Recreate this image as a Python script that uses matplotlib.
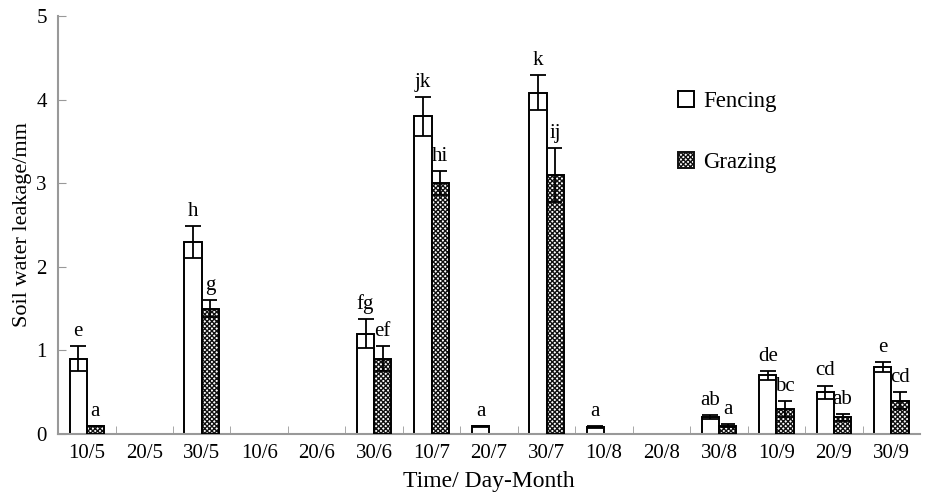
import numpy as np
import matplotlib
matplotlib.use('Agg')
import matplotlib.pyplot as plt

plt.rcParams['font.family'] = 'Liberation Serif'

# data
dates = ['10/5', '20/5', '30/5', '10/6', '20/6', '30/6', '10/7', '20/7',
         '30/7', '10/8', '20/8', '30/8', '10/9', '20/9', '30/9']
fencing = [0.9, 0, 2.3, 0, 0, 1.2, 3.8, 0.09, 4.08, 0.08, 0, 0.2, 0.7, 0.5, 0.8]
fencing_err = [0.15, 0, 0.19, 0, 0, 0.17, 0.23, 0.01, 0.21, 0.01, 0, 0.025, 0.05, 0.08, 0.06]
grazing = [0.1, 0, 1.5, 0, 0, 0.9, 3.0, 0, 3.1, 0, 0, 0.1, 0.3, 0.2, 0.4]
grazing_err = [0.0, 0, 0.1, 0, 0, 0.15, 0.14, 0, 0.32, 0, 0, 0.02, 0.1, 0.04, 0.1]
fencing_lab = ['e', '', 'h', '', '', 'fg', 'jk', 'a', 'k', 'a', '', 'ab', 'de', 'cd', 'e']
grazing_lab = ['a', '', 'g', '', '', 'ef', 'hi', '', 'ij', '', '', 'a', 'bc', 'ab', 'cd']

x = np.arange(len(dates))
w = 0.3

fig = plt.figure(figsize=(9.27, 4.92), dpi=100)
ax = fig.add_axes([0.0626, 0.1179, 0.93, 0.8496])

f = np.array(fencing)
g = np.array(grazing)
mf = f > 0
mg = g > 0

ax.bar(x[mf] - w/2, f[mf], w, color='white', edgecolor='black', lw=1.4, zorder=2)
ax.bar(x[mg] + w/2, g[mg], w, color='white', edgecolor='#111111', hatch='xxxxxxx', lw=0, zorder=2)
ax.bar(x[mg] + w/2, g[mg], w, fill=False, edgecolor='black', lw=1.4, zorder=3)

ax.errorbar(x[mf] - w/2, f[mf], yerr=np.array(fencing_err)[mf], fmt='none',
            ecolor='black', elinewidth=1.3, capsize=6, capthick=1.3, zorder=4)
ge = np.array(grazing_err)
ax.errorbar(x[mg] + w/2, g[mg], yerr=ge[mg], fmt='none',
            ecolor='black', elinewidth=1.3, capsize=5, capthick=1.3, zorder=4)

for i in range(len(dates)):
    if fencing_lab[i]:
        ax.text(x[i] - w/2, fencing[i] + fencing_err[i] + 0.06, fencing_lab[i],
                ha='center', va='bottom', fontsize=15)
    if grazing_lab[i]:
        ax.text(x[i] + w/2, grazing[i] + grazing_err[i] + 0.06, grazing_lab[i],
                ha='center', va='bottom', fontsize=15)

# legend drawn like the original: small boxes with big spacing
ax.bar([-5], [0], color='white', edgecolor='black', lw=1.4, label='Fencing')
ax.bar([-5], [0], color='white', edgecolor='#111111', hatch='xxxxxxx', lw=1.4, label='Grazing')
ax.legend(loc='upper left', bbox_to_anchor=(0.695, 0.87), frameon=False, fontsize=16.5,
          handlelength=0.7, handleheight=0.7, labelspacing=1.75, handletextpad=0.4)

ax.set_xlim(-0.5, len(dates) - 0.5)
ax.set_ylim(0, 5)
ax.set_xticks(x)
ax.set_xticklabels(dates, fontsize=15)
ax.set_xticks(x[:-1] + 0.5, minor=True)
ax.tick_params(axis='x', which='major', length=0, pad=7)
ax.tick_params(axis='x', which='minor', direction='in', length=6, color='#999999')
ax.set_yticks([0, 1, 2, 3, 4, 5])
ax.tick_params(axis='y', direction='in', length=6, color='#999999', labelsize=15, pad=8)
ax.spines['top'].set_visible(False)
ax.spines['right'].set_visible(False)
for s in ['left', 'bottom']:
    ax.spines[s].set_color('#999999')
    ax.spines[s].set_linewidth(1.5)

ax.set_ylabel('Soil water leakage/mm', fontsize=16, labelpad=3)
ax.set_xlabel('Time/ Day-Month', fontsize=17, labelpad=6)

fig.savefig('out.png', dpi=100)
